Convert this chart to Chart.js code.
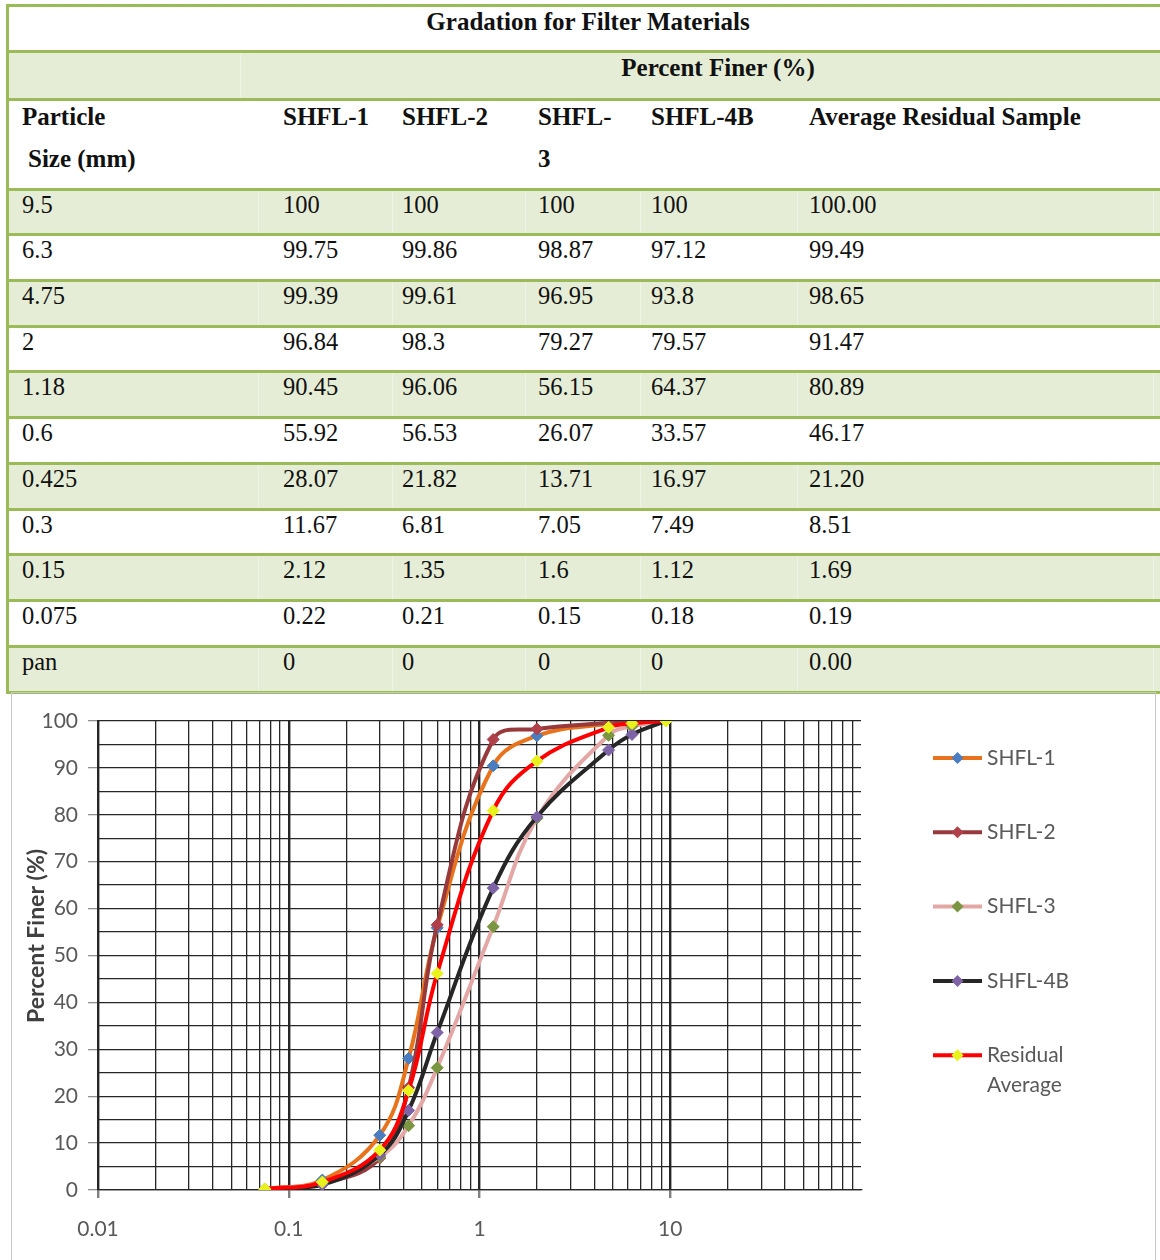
<!DOCTYPE html>
<html>
<head>
<meta charset="utf-8">
<script src="https://cdn.jsdelivr.net/npm/chart.js@4.4.1/dist/chart.umd.min.js"></script>
<style>
  html, body { margin: 0; padding: 0; background: #fff; width: 1160px; height: 1260px; overflow: hidden; }
  #table { position: absolute; left: 0; top: 0; width: 1160px; height: 694px; font-family: "Liberation Serif", "Times New Roman", serif; font-size: 24.5px; color: #111; }
  .band { position: absolute; left: 8px; width: 1160px; }
  .hline { position: absolute; left: 6px; width: 1160px; height: 3px; background: #9BBB59; }
  .vline { position: absolute; left: 6px; width: 3px; background: #9BBB59; }
  .sep { position: absolute; width: 1px; background: #eef3e6; }
  .cell { position: absolute; white-space: nowrap; line-height: 28px; }
  .b { font-weight: bold; font-size: 25px; }
  #frame { position: absolute; left: 11px; top: 692px; width: 1143px; height: 580px; border: 1px solid #c9c9c9; }
  #chartBox { position: absolute; left: 12px; top: 693px; width: 1143px; height: 567px; }
</style>
</head>
<body>
<div id="table"></div>
<div id="frame"></div>
<div id="chartBox"><canvas id="chart"></canvas></div>
<script>
// Sieve sizes (mm) and percent finer for each sample
const sizes     = ['9.5', '6.3', '4.75', '2', '1.18', '0.6', '0.425', '0.3', '0.15', '0.075', 'pan'];
const shfl1     = ['100', '99.75', '99.39', '96.84', '90.45', '55.92', '28.07', '11.67', '2.12', '0.22', '0'];
const shfl2     = ['100', '99.86', '99.61', '98.3', '96.06', '56.53', '21.82', '6.81', '1.35', '0.21', '0'];
const shfl3     = ['100', '98.87', '96.95', '79.27', '56.15', '26.07', '13.71', '7.05', '1.6', '0.15', '0'];
const shfl4b    = ['100', '97.12', '93.8', '79.57', '64.37', '33.57', '16.97', '7.49', '1.12', '0.18', '0'];
const residual  = ['100.00', '99.49', '98.65', '91.47', '80.89', '46.17', '21.20', '8.51', '1.69', '0.19', '0.00'];

const tableTitle   = 'Gradation for Filter Materials';
const groupHeader  = 'Percent Finer (%)';
const seriesNames  = ['SHFL-1', 'SHFL-2', 'SHFL-3', 'SHFL-4B', 'Residual Average'];

// Axis labels
const xTickLabels = ['0.01', '0.1', '1', '10'];
const yTickLabels = ['0', '10', '20', '30', '40', '50', '60', '70', '80', '90', '100'];
const yAxisTitle  = 'Percent Finer (%)';

// ---------- table ----------
(function buildTable() {
  const t = document.getElementById('table');
  const add = (cls, style, text) => {
    const d = document.createElement('div');
    d.className = cls;
    Object.assign(d.style, style);
    if (text !== undefined) d.textContent = text;
    t.appendChild(d);
    return d;
  };
  const shade = '#E5EDD6';
  const colX = [22, 283, 402, 538, 651, 809];
  const sepX = [258, 392, 525, 640, 797, 1153];

  // row boundary lines
  const lines = [5, 51, 99, 189];
  const pitch = 45.73;
  for (let i = 1; i <= sizes.length; i++) lines.push(189 + pitch * i);

  // backgrounds
  add('band', { top: lines[1] + 'px', height: (lines[2] - lines[1]) + 'px', background: shade });
  sizes.forEach((s, i) => {
    if (i % 2 === 0) add('band', { top: lines[3 + i] + 'px', height: (lines[4 + i] - lines[3 + i]) + 'px', background: shade });
  });
  // faint column separators in shaded rows
  sizes.forEach((s, i) => {
    if (i % 2 !== 0) return;
    sepX.forEach(x => add('sep', { left: x + 'px', top: lines[3 + i] + 'px', height: (lines[4 + i] - lines[3 + i]) + 'px' }));
  });
  add('sep', { left: '240px', top: lines[1] + 'px', height: (lines[2] - lines[1]) + 'px' });

  lines.forEach(y => add('hline', { top: (y - 1.5) + 'px' }));
  add('vline', { top: '4px', height: (lines[lines.length - 1] - 2) + 'px' });

  // title rows
  add('cell b', { left: '8px', width: '1160px', textAlign: 'center', top: '8px' }, tableTitle);
  add('cell b', { left: '268px', width: '900px', textAlign: 'center', top: '54px' }, groupHeader);

  // column header
  add('cell b', { left: colX[0] + 'px', top: '103px' }, 'Particle');
  add('cell b', { left: (colX[0] + 6) + 'px', top: '145px' }, 'Size (mm)');
  add('cell b', { left: colX[1] + 'px', top: '103px' }, 'SHFL-1');
  add('cell b', { left: colX[2] + 'px', top: '103px' }, 'SHFL-2');
  add('cell b', { left: colX[3] + 'px', top: '103px' }, 'SHFL-');
  add('cell b', { left: colX[3] + 'px', top: '145px' }, '3');
  add('cell b', { left: colX[4] + 'px', top: '103px' }, 'SHFL-4B');
  add('cell b', { left: colX[5] + 'px', top: '103px' }, 'Average Residual Sample');

  // data rows
  const cols = [sizes, shfl1, shfl2, shfl3, shfl4b, residual];
  sizes.forEach((s, i) => {
    const top = lines[3 + i] + 1.5;
    cols.forEach((c, j) => add('cell', { left: colX[j] + 'px', top: top + 'px' }, c[i]));
  });
})();

// ---------- chart ----------
function toPoints(values) {
  const pts = [];
  sizes.forEach((s, i) => {
    const x = parseFloat(s);
    if (!isNaN(x)) pts.push({ x: x, y: parseFloat(values[i]) });
  });
  return pts;
}

const seriesData   = [shfl1, shfl2, shfl3, shfl4b, residual];
const lineColors   = ['#E8731C', '#983A3C', '#E3A8A6', '#262626', '#FF0000'];
const markerColors = ['#4A7EC0', '#B0404A', '#7A9640', '#7E63A6', '#EAF21C'];
const drawOrder    = [4, 3, 2, 1, 0];

// log grid positions: 1..9 within each decade from 0.01 to 10
const xGridValues = [];
[0.01, 0.1, 1, 10].forEach(d => {
  for (let m = 1; m <= 9; m++) xGridValues.push(Number((m * d).toPrecision(6)));
});
const isDecade = v => Math.abs(Math.log10(v) - Math.round(Math.log10(v))) < 1e-9;

const legendAndTitle = {
  id: 'legendAndTitle',
  afterDraw(chart) {
    const ctx = chart.ctx;
    ctx.save();
    // y-axis title
    ctx.translate(25, 243);
    ctx.rotate(-Math.PI / 2);
    ctx.font = 'bold 23px Lato';
    ctx.fillStyle = '#404040';
    ctx.textAlign = 'center';
    ctx.textBaseline = 'middle';
    ctx.fillText(yAxisTitle, 0, 0);
    ctx.restore();

    // legend
    ctx.save();
    ctx.font = '21px Lato';
    ctx.textBaseline = 'middle';
    ctx.textAlign = 'left';
    const x0 = 921, x1 = 970, tx = 975, y0 = 65, step = 74.3;
    chart.data.datasets.forEach((ds, i) => {
      const y = y0 + step * i;
      ctx.strokeStyle = ds.borderColor;
      ctx.lineWidth = 4;
      ctx.beginPath(); ctx.moveTo(x0, y); ctx.lineTo(x1, y); ctx.stroke();
      const cx = (x0 + x1) / 2, r = 6;
      ctx.fillStyle = ds.pointBackgroundColor;
      ctx.beginPath();
      ctx.moveTo(cx, y - r); ctx.lineTo(cx + r, y); ctx.lineTo(cx, y + r); ctx.lineTo(cx - r, y); ctx.closePath();
      ctx.fill();
      ctx.fillStyle = '#595959';
      const words = ds.label.split(' ');
      const rows = [];
      let cur = '';
      words.forEach(w => {
        const test = cur ? cur + ' ' + w : w;
        if (cur && ctx.measureText(test).width > 95) { rows.push(cur); cur = w; } else cur = test;
      });
      rows.push(cur);
      rows.forEach((r2, k) => ctx.fillText(r2, tx, y + k * 30));
    });
    ctx.restore();
  }
};

new Chart(document.getElementById('chart'), {
  type: 'line',
  data: {
    datasets: seriesNames.map((name, i) => ({
      label: name,
      data: toPoints(seriesData[i]),
      borderColor: lineColors[i],
      backgroundColor: lineColors[i],
      pointBackgroundColor: markerColors[i],
      pointBorderColor: markerColors[i],
      pointStyle: 'rectRot',
      pointRadius: 6,
      pointBorderWidth: 1,
      borderWidth: 4,
      tension: 0.4,
      fill: false,
      order: drawOrder[i]
    }))
  },
  options: {
    responsive: true,
    maintainAspectRatio: false,
    animation: false,
    layout: { padding: { left: 0, right: 294, top: 28, bottom: 0 } },
    plugins: { legend: { display: false }, tooltip: { enabled: false } },
    scales: {
      x: {
        type: 'logarithmic',
        min: 0.01,
        max: 100,
        afterBuildTicks: scale => { scale.ticks = xGridValues.map(v => ({ value: v, major: isDecade(v) })); },
        afterFit: scale => { scale.height = 70; },
        ticks: {
          autoSkip: false,
          maxRotation: 0,
          padding: 19,
          color: '#595959',
          font: { family: 'Lato', size: 21 },
          callback: v => {
            const s = String(Number(v.toPrecision(6)));
            return isDecade(v) && xTickLabels.includes(s) ? s : '';
          }
        },
        grid: {
          color: '#262626',
          lineWidth: c => (c.tick && isDecade(c.tick.value) ? 2.4 : 1.3),
          tickLength: 8,
          tickColor: c => (c.tick && isDecade(c.tick.value) ? '#808080' : 'rgba(0,0,0,0)')
        },
        border: { display: true, color: '#262626', width: 1.3 }
      },
      y: {
        min: 0,
        max: 100,
        afterFit: scale => { scale.width = 86; },
        ticks: {
          stepSize: 5,
          autoSkip: false,
          padding: 10,
          color: '#595959',
          font: { family: 'Lato', size: 21 },
          callback: v => (yTickLabels.includes(String(v)) ? String(v) : '')
        },
        grid: {
          color: '#262626',
          lineWidth: 1.3,
          tickLength: 10,
          tickColor: c => (c.tick && c.tick.value % 10 === 0 ? '#909090' : 'rgba(0,0,0,0)')
        },
        border: { display: true, color: '#262626', width: 2 }
      }
    }
  },
  plugins: [legendAndTitle]
});
</script>
</body>
</html>
